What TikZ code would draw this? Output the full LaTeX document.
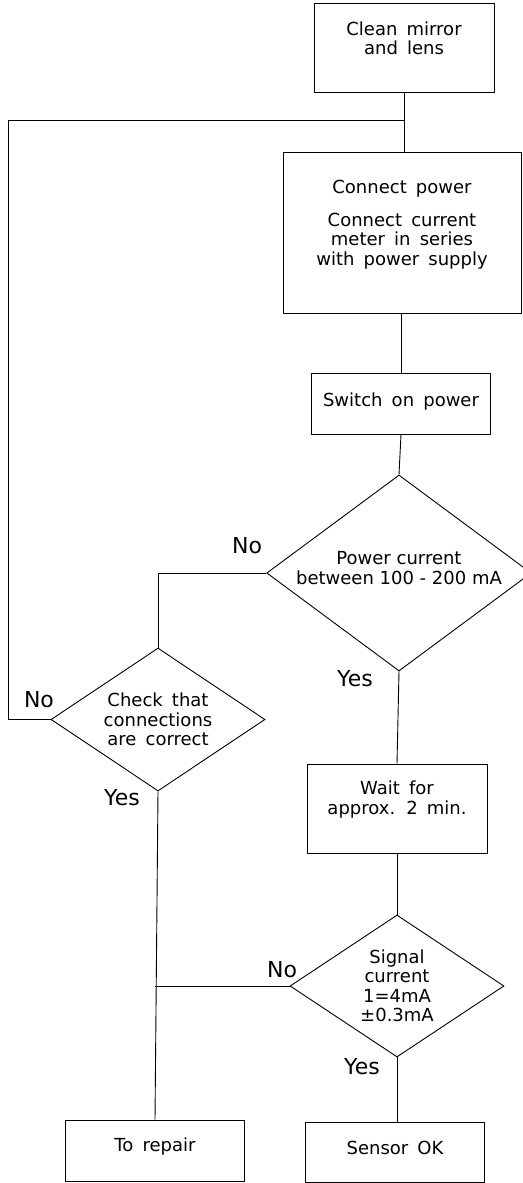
\documentclass[tikz,border=0pt]{standalone}
\usepackage{fontspec}
\setmainfont{DejaVu Sans}
\newfontfamily\boxfamily{DejaVu Sans}[WordSpace=1.6]
\usepackage{tikz}
\usetikzlibrary{shapes.geometric, positioning}

\newcommand{\boxfont}{\boxfamily\fontsize{18}{19.5}\selectfont}
\newcommand{\plainboxfont}{\fontsize{18}{19.5}\selectfont}
\newcommand{\answerfont}{\fontsize{22}{24}\selectfont}

\tikzset{
  stepbox/.style={draw, rectangle, line width=0.9pt, align=center, inner sep=0pt, font=\boxfont},
  decision/.style={draw, diamond, line width=0.9pt, align=center, inner sep=0pt, font=\boxfont},
  answer/.style={font=\answerfont, inner sep=0pt},
  link/.style={line width=0.9pt}
}

\begin{document}
\begin{tikzpicture}[x=1pt, y=-1pt]
  \useasboundingbox (0,0) rectangle (522,1183);

  % Main column
  \node[stepbox, minimum width=180pt, minimum height=89pt, text depth=19pt] (clean) at (404,47.5) {Clean mirror\\and lens};
  \node[stepbox, minimum width=238pt, minimum height=161pt, text depth=19pt] (connect) at (402,232.5) {Connect power\\[13pt]Connect current\\meter in series\\with power supply};
  \node[stepbox, minimum width=179pt, minimum height=61pt, text depth=7pt] (switch) at (401,403.5) {Switch on power};
  \node[decision, font=\plainboxfont, aspect=1.38, minimum width=256pt, minimum height=196pt, text depth=10pt] (power) at (399,573) {Power current\\between 100 - 200 mA};
  \node[stepbox, minimum width=180pt, minimum height=89pt, text depth=22pt] (wait) at (397,808.5) {Wait for\\approx. 2 min.};
  \node[decision, aspect=1.5, minimum width=214pt, minimum height=142pt] (signal) at (397,986) {Signal\\current\\1=4mA\\±0.3mA};
  \node[stepbox, minimum width=179pt, minimum height=60pt, text depth=10pt] (sensor) at (395,1152.5) {Sensor OK};

  % Left column
  \node[decision, aspect=1.5, minimum width=214pt, minimum height=143pt] (check) at (158,719.5) {Check that\\connections\\are correct};
  \node[stepbox, minimum width=179pt, minimum height=61pt, text depth=12pt] (repair) at (155,1150.5) {To repair};

  % Answers
  \node[answer] (nopower) at (247,546) {No};
  \node[answer] (yespower) at (355,679) {Yes};
  \node[answer] (nocheck) at (39,700) {No};
  \node[answer] (yescheck) at (122,798) {Yes};
  \node[answer] (nosignal) at (282,970) {No};
  \node[answer] (yessignal) at (362,1067) {Yes};

  % Connectors
  \coordinate (loopcorner) at (8,120);
  \draw[link] (clean.south) -- (clean.south |- connect.north);
  \draw[link] (connect.south -| switch.north) -- (switch.north);
  \draw[link] (switch.south) -- (power.north);
  \draw[link] (power.south) -- (wait.north);
  \draw[link] (wait.south) -- (signal.north);
  \draw[link] (signal.south) -- (signal.south |- sensor.north);
  \draw[link] (power.west) -| (check.north);
  \draw[link] (check.west) -| (loopcorner) -- (loopcorner -| clean.south);
  \draw[link] (check.south) -- (repair.north);
  \draw[link] (signal.west) -- (signal.west -| repair.north);
\end{tikzpicture}
\end{document}
